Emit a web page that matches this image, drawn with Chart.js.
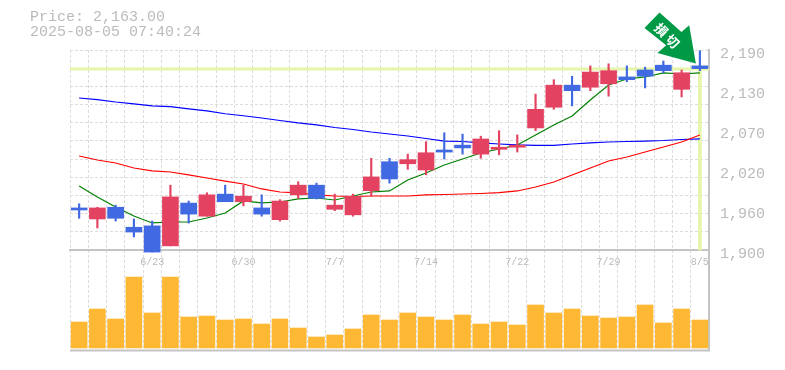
<!DOCTYPE html>
<html>
<head>
<meta charset="utf-8">
<style>
    html, body { margin: 0; padding: 0; background: #fff; }
    #wrap { position: relative; width: 785px; height: 370px; overflow: hidden; }
    #price-info {
        position: absolute; left: 30px; top: 10px;
        font: 15px/15px "Liberation Mono", monospace; color: #bbb; white-space: pre;
    }
    canvas { position: absolute; left: 0; top: 0; }
</style>
<script src="https://cdn.jsdelivr.net/npm/chart.js@4"></script>
</head>
<body>
<div id="wrap">
    <canvas id="stockChart" width="785" height="370"></canvas>
    <div id="price-info">Price: 2,163.00
2025-08-05 07:40:24</div>
</div>
<script>
const dates = ['6/17','6/18','6/19','6/20','6/23','6/24','6/25','6/26','6/27','6/30','7/1','7/2','7/3','7/4','7/7','7/8','7/9','7/10','7/11','7/14','7/15','7/16','7/17','7/18','7/22','7/23','7/24','7/25','7/28','7/29','7/30','7/31','8/1','8/4','8/5'];
const shownDates = ['6/23','6/30','7/7','7/14','7/22','7/29','8/5'];

const opens  = [1961,1945,1962,1933,1935,1906,1968,1949,1981,1970,1961,1944,1980,1994,1959,1951,1986,2028,2025,2016,2045,2052,2039,2046,2049,2077,2107,2139,2136,2141,2151,2161,2168,2133,2167];
const highs  = [1967,1962,1965,1945,1942,1994,1971,1983,1994,1994,1980,1973,1999,1997,1981,1981,2033,2033,2039,2057,2070,2068,2065,2073,2067,2126,2147,2152,2167,2170,2167,2165,2174,2161,2189];
const lows   = [1946,1932,1942,1919,1897,1906,1939,1949,1970,1964,1949,1942,1975,1974,1957,1949,1978,1997,2017,2009,2032,2039,2033,2038,2042,2073,2104,2109,2131,2123,2144,2135,2157,2122,2160];
const closes = [1958,1961,1946,1926,1897,1977,1952,1980,1970,1978,1952,1971,1994,1975,1965,1978,2006,2003,2031,2041,2042,2048,2061,2049,2052,2104,2139,2131,2158,2160,2147,2152,2160,2157,2163];

const maShort = [1992.8,1976.9,1962.4,1949.3,1939.2,1940.6,1940.6,1946.4,1953.7,1971.1,1968.2,1969.6,1974,1975.4,1972.5,1978.3,1984.1,1985.6,2001.5,2011.7,2023.3,2032,2040.7,2046.5,2052.3,2066.8,2081.3,2094.3,2117.5,2139.3,2148,2150.9,2156.7,2155.2,2156.7];
const maMid   = [2036.3,2030.5,2026.2,2018.9,2014.6,2013.1,2008.8,2004.4,2000,1995.7,1988.5,1984.1,1982.7,1979.8,1978.3,1977.6,1978.3,1978.3,1978.3,1979.8,1980.5,1981.2,1981.9,1983.1,1985.6,1991.4,1998.6,2008.8,2018.9,2029,2034.9,2042.1,2049.4,2056.6,2066.8];
const maLong  = [2120.4,2118,2114.6,2112,2109,2107.8,2104.5,2101.6,2097.6,2094.7,2091.4,2087.8,2084.2,2081.3,2077.6,2074.7,2071.1,2068.2,2065.3,2061.7,2058,2057.3,2055.2,2053.7,2052.3,2051.8,2051.8,2053.7,2055.2,2056.6,2057.3,2058,2058.8,2060.2,2061];

const volumes = [26,39,29,71,35,71,31,32,28,29,24,29,20,11,13,19,33,28,35,31,28,33,24,26,23,43,35,39,32,30,31,43,25,39,28];

const priceTicks = [1900,1958,2016,2074,2132,2190];
const priceTickLabels = ['1,900','1,960','2,020','2,070','2,130','2,190'];
const gridSteps = 11;
const currentPrice = 2163;

const RED = '#E34361', BLUE = '#4169E1', HILITE = '#E5F5A9', GRAY = '#c4c4c4', GRID = '#dcdcdc';

// the panel below the price range holds the volume bars
const PRICE_MIN = 1755, PRICE_MAX = 2190;
const VOL_MIN = -2, VOL_MAX = 298;

const candleColors = closes.map((c, i) => c >= opens[i] ? RED : BLUE);

function lineSet(data, color, order) {
    return { type: 'line', data, borderColor: color, borderWidth: 1.2, pointRadius: 0, tension: 0, yAxisID: 'y', order };
}

const framePlugin = {
    id: 'frame',
    beforeDatasetsDraw(chart) {
        const { ctx, chartArea: a, scales } = chart;
        const y = Math.round(scales.y.getPixelForValue(currentPrice));
        ctx.save();
        // current price line
        ctx.fillStyle = HILITE;
        ctx.fillRect(a.left, y - 1.5, a.right - a.left, 3);
        // bottom edge of the volume panel
        ctx.fillStyle = GRAY;
        ctx.fillRect(a.left, a.bottom - 0.5, a.right - a.left + 1, 2);
        ctx.restore();
    },
    afterDraw(chart) {
        const { ctx, scales } = chart;
        const tipX = scales.x.getPixelForValue(dates.length - 1) - 4;
        const tipY = scales.y.getPixelForValue(currentPrice) - 5;
        ctx.save();
        ctx.translate(tipX, tipY);
        ctx.fillStyle = '#009A46';
        ctx.beginPath();
        ctx.moveTo(-36.4, -51);
        ctx.lineTo(-14.4, -31.7);
        ctx.lineTo(-6.7, -38.4);
        ctx.lineTo(0, 0);
        ctx.lineTo(-38.4, -10.7);
        ctx.lineTo(-29.7, -18.4);
        ctx.lineTo(-51.4, -35.7);
        ctx.closePath();
        ctx.fill();
        ctx.translate(-29, -28);
        ctx.rotate(Math.PI / 4);
        ctx.fillStyle = '#fff';
        ctx.font = 'bold 13px "Noto Sans CJK JP"';
        ctx.textAlign = 'center';
        ctx.textBaseline = 'middle';
        ctx.fillText('損', -8, 0);
        ctx.fillText('切', 8, 0);
        ctx.restore();
    }
};

new Chart(document.getElementById('stockChart'), {
    data: {
        labels: dates,
        datasets: [
            { type: 'bar', data: opens.map((o, i) => [o, closes[i]]), backgroundColor: candleColors, barThickness: 16, grouped: false, yAxisID: 'y', order: 1 },
            { type: 'bar', data: lows.map((l, i) => [l, highs[i]]), backgroundColor: candleColors, barThickness: 1.5, grouped: false, yAxisID: 'y', order: 2 },
            lineSet(maShort, '#008000', 3),
            lineSet(maMid, '#ff0000', 4),
            lineSet(maLong, '#0000ff', 5),
            { type: 'bar', data: dates.map((d, i) => i === dates.length - 1 ? [priceTicks[0], currentPrice] : null), backgroundColor: HILITE, barThickness: 3, grouped: false, yAxisID: 'y', order: 6 },
            { type: 'bar', data: volumes, backgroundColor: '#FFB833', barThickness: 16, grouped: false, yAxisID: 'vol', order: 7 }
        ]
    },
    options: {
        responsive: false,
        animation: false,
        layout: { padding: { left: 70, top: 50, bottom: 20, right: 0 } },
        plugins: { legend: { display: false }, tooltip: { enabled: false } },
        scales: {
            x: {
                position: { y: priceTicks[0] },
                offset: true,
                grid: { offset: true, color: GRID, drawTicks: false },
                border: { color: GRAY, width: 2, dash: [3, 2] },
                ticks: {
                    autoSkip: false, maxRotation: 0, padding: 6,
                    color: '#bbb',
                    font: { family: '"Liberation Mono", monospace', size: 10 },
                    callback(v) {
                        const d = this.getLabelForValue(v);
                        return shownDates.includes(d) ? d : '';
                    }
                }
            },
            y: {
                position: 'right',
                min: PRICE_MIN, max: PRICE_MAX,
                grid: { display: false },
                border: { color: GRAY, width: 2 },
                afterBuildTicks(axis) { axis.ticks = priceTicks.map(value => ({ value })); },
                afterFit(axis) { axis.width = 76; },
                ticks: {
                    padding: 3, labelOffset: 4, color: '#bbb',
                    font: { family: '"Liberation Mono", monospace', size: 15 },
                    callback(v) { return priceTickLabels[priceTicks.indexOf(v)]; }
                }
            },
            yGrid: {
                position: 'left',
                min: PRICE_MIN, max: PRICE_MAX,
                grid: { color: GRID, drawTicks: false },
                border: { display: false, dash: [3, 2] },
                afterBuildTicks(axis) {
                    const step = (PRICE_MAX - priceTicks[0]) / gridSteps;
                    axis.ticks = [];
                    for (let i = 1; i <= gridSteps; i++) axis.ticks.push({ value: priceTicks[0] + step * i });
                },
                ticks: { display: false }
            },
            vol: { display: false, min: VOL_MIN, max: VOL_MAX }
        }
    },
    plugins: [framePlugin]
});
</script>
</body>
</html>
